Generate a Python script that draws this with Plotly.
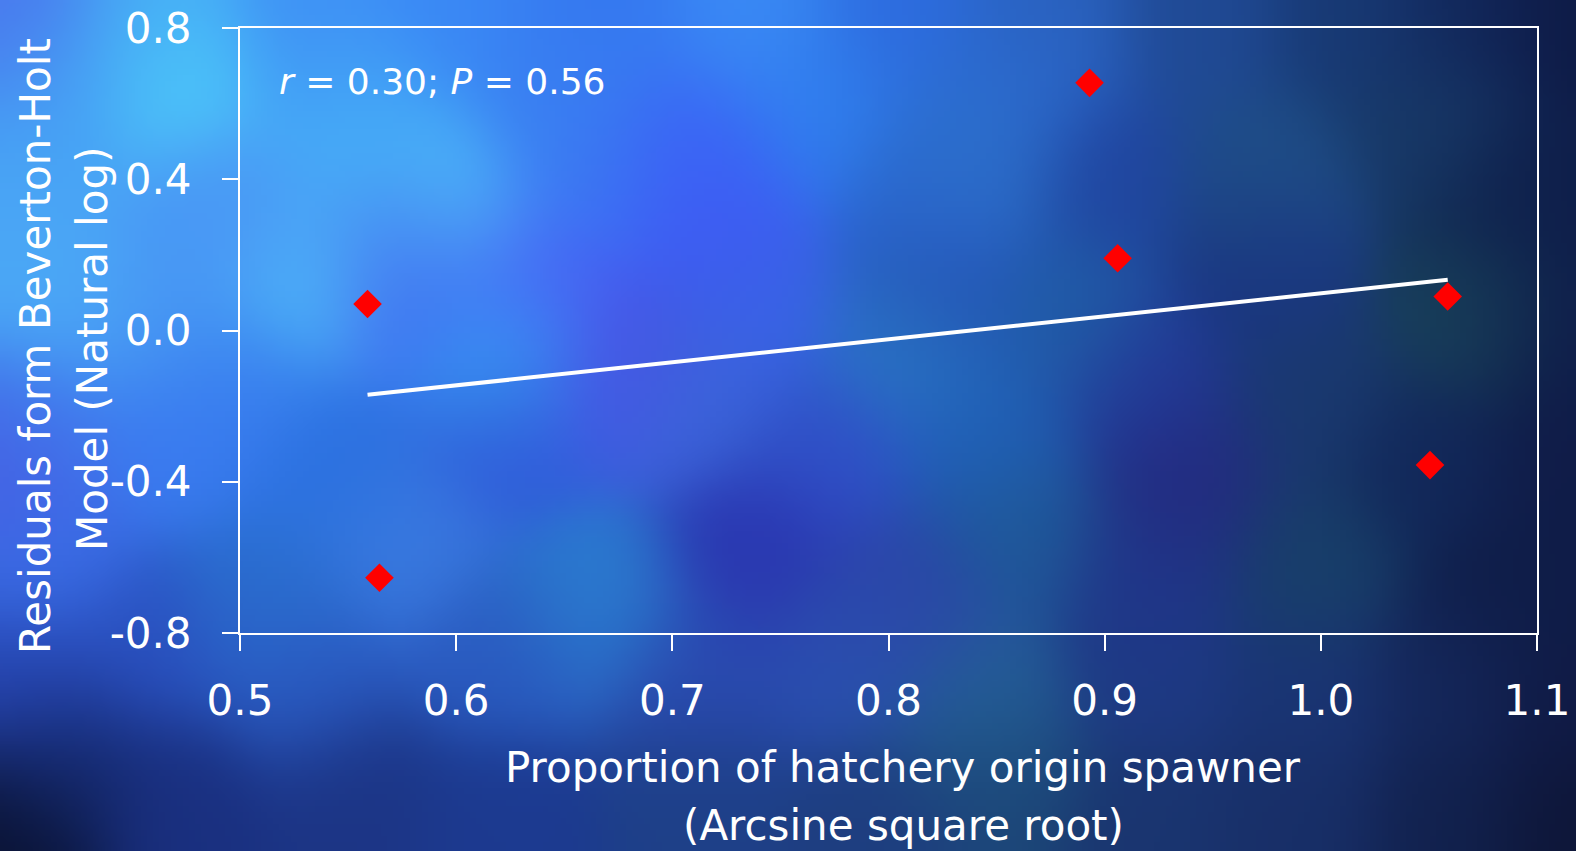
import base64
import struct
import zlib

import numpy as np
import plotly.graph_objects as go

# ---------------- data ----------------
hatchery_prop = [0.559, 0.5645, 0.893, 0.906, 1.0587, 1.0505]
residuals = [0.070, -0.654, 0.655, 0.191, 0.090, -0.356]
trend_x = [0.559, 1.0587]
trend_y = [-0.170, 0.134]
x_tickvals = [0.5, 0.6, 0.7, 0.8, 0.9, 1.0, 1.1]
x_ticktext = ["0.5", "0.6", "0.7", "0.8", "0.9", "1.0", "1.1"]
y_tickvals = [-0.8, -0.4, 0.0, 0.4, 0.8]
y_ticktext = ["-0.8", "-0.4", "0.0", "0.4", "0.8"]
stat_text = "<i>r</i> = 0.30; <i>P</i> = 0.56"

# ---------------- figure geometry ----------------
W, H = 1576, 851
ML, MR, MT, MB = 240, 39, 28, 218
PW, PH = W - ML - MR, H - MT - MB


def px_x(px):
    return (px - ML) / PW


def px_y(py):
    return (H - MB - py) / PH


# ---------------- decorative background texture ----------------
ctrl = [
    (20, 20, "#4a78ee"), (150, 30, "#45a8f5"), (300, 30, "#3f90f5"), (450, 20, "#3a88f5"),
    (600, 20, "#3578f0"), (750, 20, "#3a8af5"), (900, 20, "#2d6ce0"), (1050, 20, "#2a62c0"),
    (1200, 20, "#204a95"), (1350, 20, "#183a75"), (1470, 20, "#12285c"), (1570, 20, "#0e1a45"),
    (180, 85, "#4fd6fb"), (60, 100, "#45a0f5"), (350, 100, "#42a0f6"), (550, 100, "#3a80f2"),
    (820, 117, "#3080f0"), (1000, 100, "#2c6cd0"),
    (40, 200, "#4aa5f5"), (352, 157, "#48b8f8"), (450, 207, "#4fc8fa"), (200, 200, "#4898f5"),
    (686, 150, "#3a68f5"), (709, 210, "#4058f5"), (580, 180, "#3a78f2"), (932, 200, "#2a60d0"),
    (961, 183, "#2d78c8"), (1104, 183, "#2045a0"), (1267, 183, "#1f4f88"), (1430, 133, "#183a68"),
    (1512, 200, "#102450"), (1570, 200, "#0e1c48"),
    (390, 240, "#4570f0"), (250, 225, "#4a90f5"), (420, 300, "#4068f0"), (240, 380, "#3a80f0"),
    (60, 300, "#4cabf7"), (160, 320, "#4898f4"), (307, 273, "#50c8fa"), (530, 280, "#4a58f5"),
    (499, 350, "#35b0f8"), (620, 367, "#4a50e8"), (760, 300, "#3a62e8"), (910, 340, "#2a80c8"),
    (945, 295, "#2348b0"), (1063, 317, "#2060a8"), (1267, 267, "#1a3580"), (1471, 307, "#18405a"),
    (1570, 330, "#0f1d4a"),
    (40, 420, "#3f80f0"), (5, 470, "#4858e0"), (180, 440, "#3a7af0"), (329, 467, "#2a70e0"),
    (508, 433, "#2f58d8"), (686, 400, "#3a68d8"), (830, 450, "#3050c8"), (982, 433, "#2060b8"),
    (1145, 383, "#233a98"), (1308, 400, "#1a3a70"), (1186, 483, "#242a80"), (1430, 467, "#12285a"),
    (1570, 470, "#101c48"),
    (40, 560, "#3a70e8"), (262, 600, "#2a70d0"), (400, 540, "#3a7ae0"), (597, 600, "#2a7cd0"),
    (753, 550, "#2a35b0"), (910, 600, "#2c45a8"), (1022, 533, "#1e5a98"), (1150, 580, "#20358a"),
    (1308, 567, "#18406a"), (1512, 600, "#0f1d48"),
    (20, 680, "#2848b8"), (150, 650, "#2a50c0"), (300, 680, "#2a58c0"), (500, 660, "#2a5ac0"),
    (700, 680, "#2a4ab0"), (850, 660, "#2a50b0"), (980, 700, "#246098"), (1150, 680, "#1e3a85"),
    (1300, 690, "#1a3575"), (1450, 680, "#15285c"), (1570, 700, "#101a45"),
    (10, 830, "#0a1230"), (60, 760, "#152a70"), (180, 800, "#1a3080"), (350, 800, "#1c3585"),
    (500, 820, "#1c3a90"), (700, 800, "#1e4088"), (880, 830, "#1e3e80"), (1000, 790, "#1c4878"),
    (1150, 820, "#1a3570"), (1300, 820, "#182f68"), (1450, 830, "#12224f"), (1570, 840, "#0e1638"),
]
step = 6
gw, gh = W // step + 1, H // step + 1
gx, gy = np.meshgrid((np.arange(gw) + 0.5) * step, (np.arange(gh) + 0.5) * step)
R = 80.0
logw = np.stack([-((gx - cx) ** 2 + (gy - cy) ** 2) / R ** 2 for cx, cy, _ in ctrl])
logw -= logw.max(axis=0, keepdims=True)
wts = np.exp(logw)
wts /= wts.sum(axis=0, keepdims=True)
cols = np.array([[int(h[i:i + 2], 16) for i in (1, 3, 5)] for _, _, h in ctrl], dtype=float)
img = np.einsum("kij,kc->ijc", wts, cols)
img = np.clip(img, 0, 255).astype(np.uint8)


def to_png(a):
    h, w, _ = a.shape
    raw = b"".join(b"\x00" + a[r].tobytes() for r in range(h))

    def chunk(t, d):
        c = struct.pack(">I", len(d)) + t + d
        return c + struct.pack(">I", zlib.crc32(t + d) & 0xFFFFFFFF)

    return (b"\x89PNG\r\n\x1a\n" + chunk(b"IHDR", struct.pack(">IIBBBBB", w, h, 8, 2, 0, 0, 0))
            + chunk(b"IDAT", zlib.compress(raw, 9)) + chunk(b"IEND", b""))


bg_uri = "data:image/png;base64," + base64.b64encode(to_png(img)).decode()

# ---------------- plot ----------------
FONT = "DejaVu Sans"
fig = go.Figure()
fig.add_trace(go.Scatter(x=trend_x, y=trend_y, mode="lines",
                         line=dict(color="white", width=4), hoverinfo="skip",
                         showlegend=False))
fig.add_trace(go.Scatter(x=hatchery_prop, y=residuals, mode="markers",
                         marker=dict(symbol="diamond", size=22, color="#ff0000",
                                     line=dict(width=0)),
                         showlegend=False))

axis_common = dict(showline=True, linecolor="white", linewidth=2, mirror=True,
                   ticks="outside", ticklen=16, tickwidth=2, tickcolor="white",
                   showgrid=False, zeroline=False, automargin=False,
                   tickfont=dict(family=FONT, size=42, color="white"))
fig.update_xaxes(range=[0.5, 1.1], tickvals=x_tickvals, ticktext=x_ticktext,
                 ticklabelstandoff=14, **axis_common)
fig.update_yaxes(range=[-0.8, 0.8], tickvals=y_tickvals, ticktext=y_ticktext,
                 ticklabelstandoff=22, **axis_common)

ann_font = dict(family=FONT, size=42, color="white")
annotations = [
    dict(text=stat_text, xref="paper", yref="paper", x=px_x(277), y=px_y(81),
         xanchor="left", yanchor="middle", showarrow=False,
         font=dict(family=FONT, size=36, color="white")),
    dict(text="Proportion of hatchery origin spawner", xref="paper", yref="paper",
         x=px_x(903), y=px_y(767), xanchor="center", yanchor="middle",
         showarrow=False, font=ann_font),
    dict(text="(Arcsine square root)", xref="paper", yref="paper",
         x=px_x(903), y=px_y(825), xanchor="center", yanchor="middle",
         showarrow=False, font=ann_font),
    dict(text="Residuals form Beverton-Holt", xref="paper", yref="paper",
         x=px_x(35), y=px_y(346), xanchor="center", yanchor="middle",
         textangle=-90, showarrow=False, font=ann_font),
    dict(text="Model (Natural log)", xref="paper", yref="paper",
         x=px_x(92), y=px_y(349), xanchor="center", yanchor="middle",
         textangle=-90, showarrow=False, font=ann_font),
]

fig.update_layout(
    width=W, height=H, autosize=False,
    margin=dict(l=ML, r=MR, t=MT, b=MB, pad=0, autoexpand=False),
    paper_bgcolor="#14245c", plot_bgcolor="rgba(0,0,0,0)",
    font=dict(family=FONT, color="white"),
    annotations=annotations,
    images=[dict(source=bg_uri, xref="paper", yref="paper",
                 x=px_x(0), y=px_y(0), sizex=W / PW, sizey=H / PH,
                 xanchor="left", yanchor="top", sizing="stretch",
                 layer="below", opacity=1)],
)

fig.write_html("out.html", config={"displayModeBar": False},
               post_script="document.body.style.margin='0';document.body.style.overflow='hidden';")
